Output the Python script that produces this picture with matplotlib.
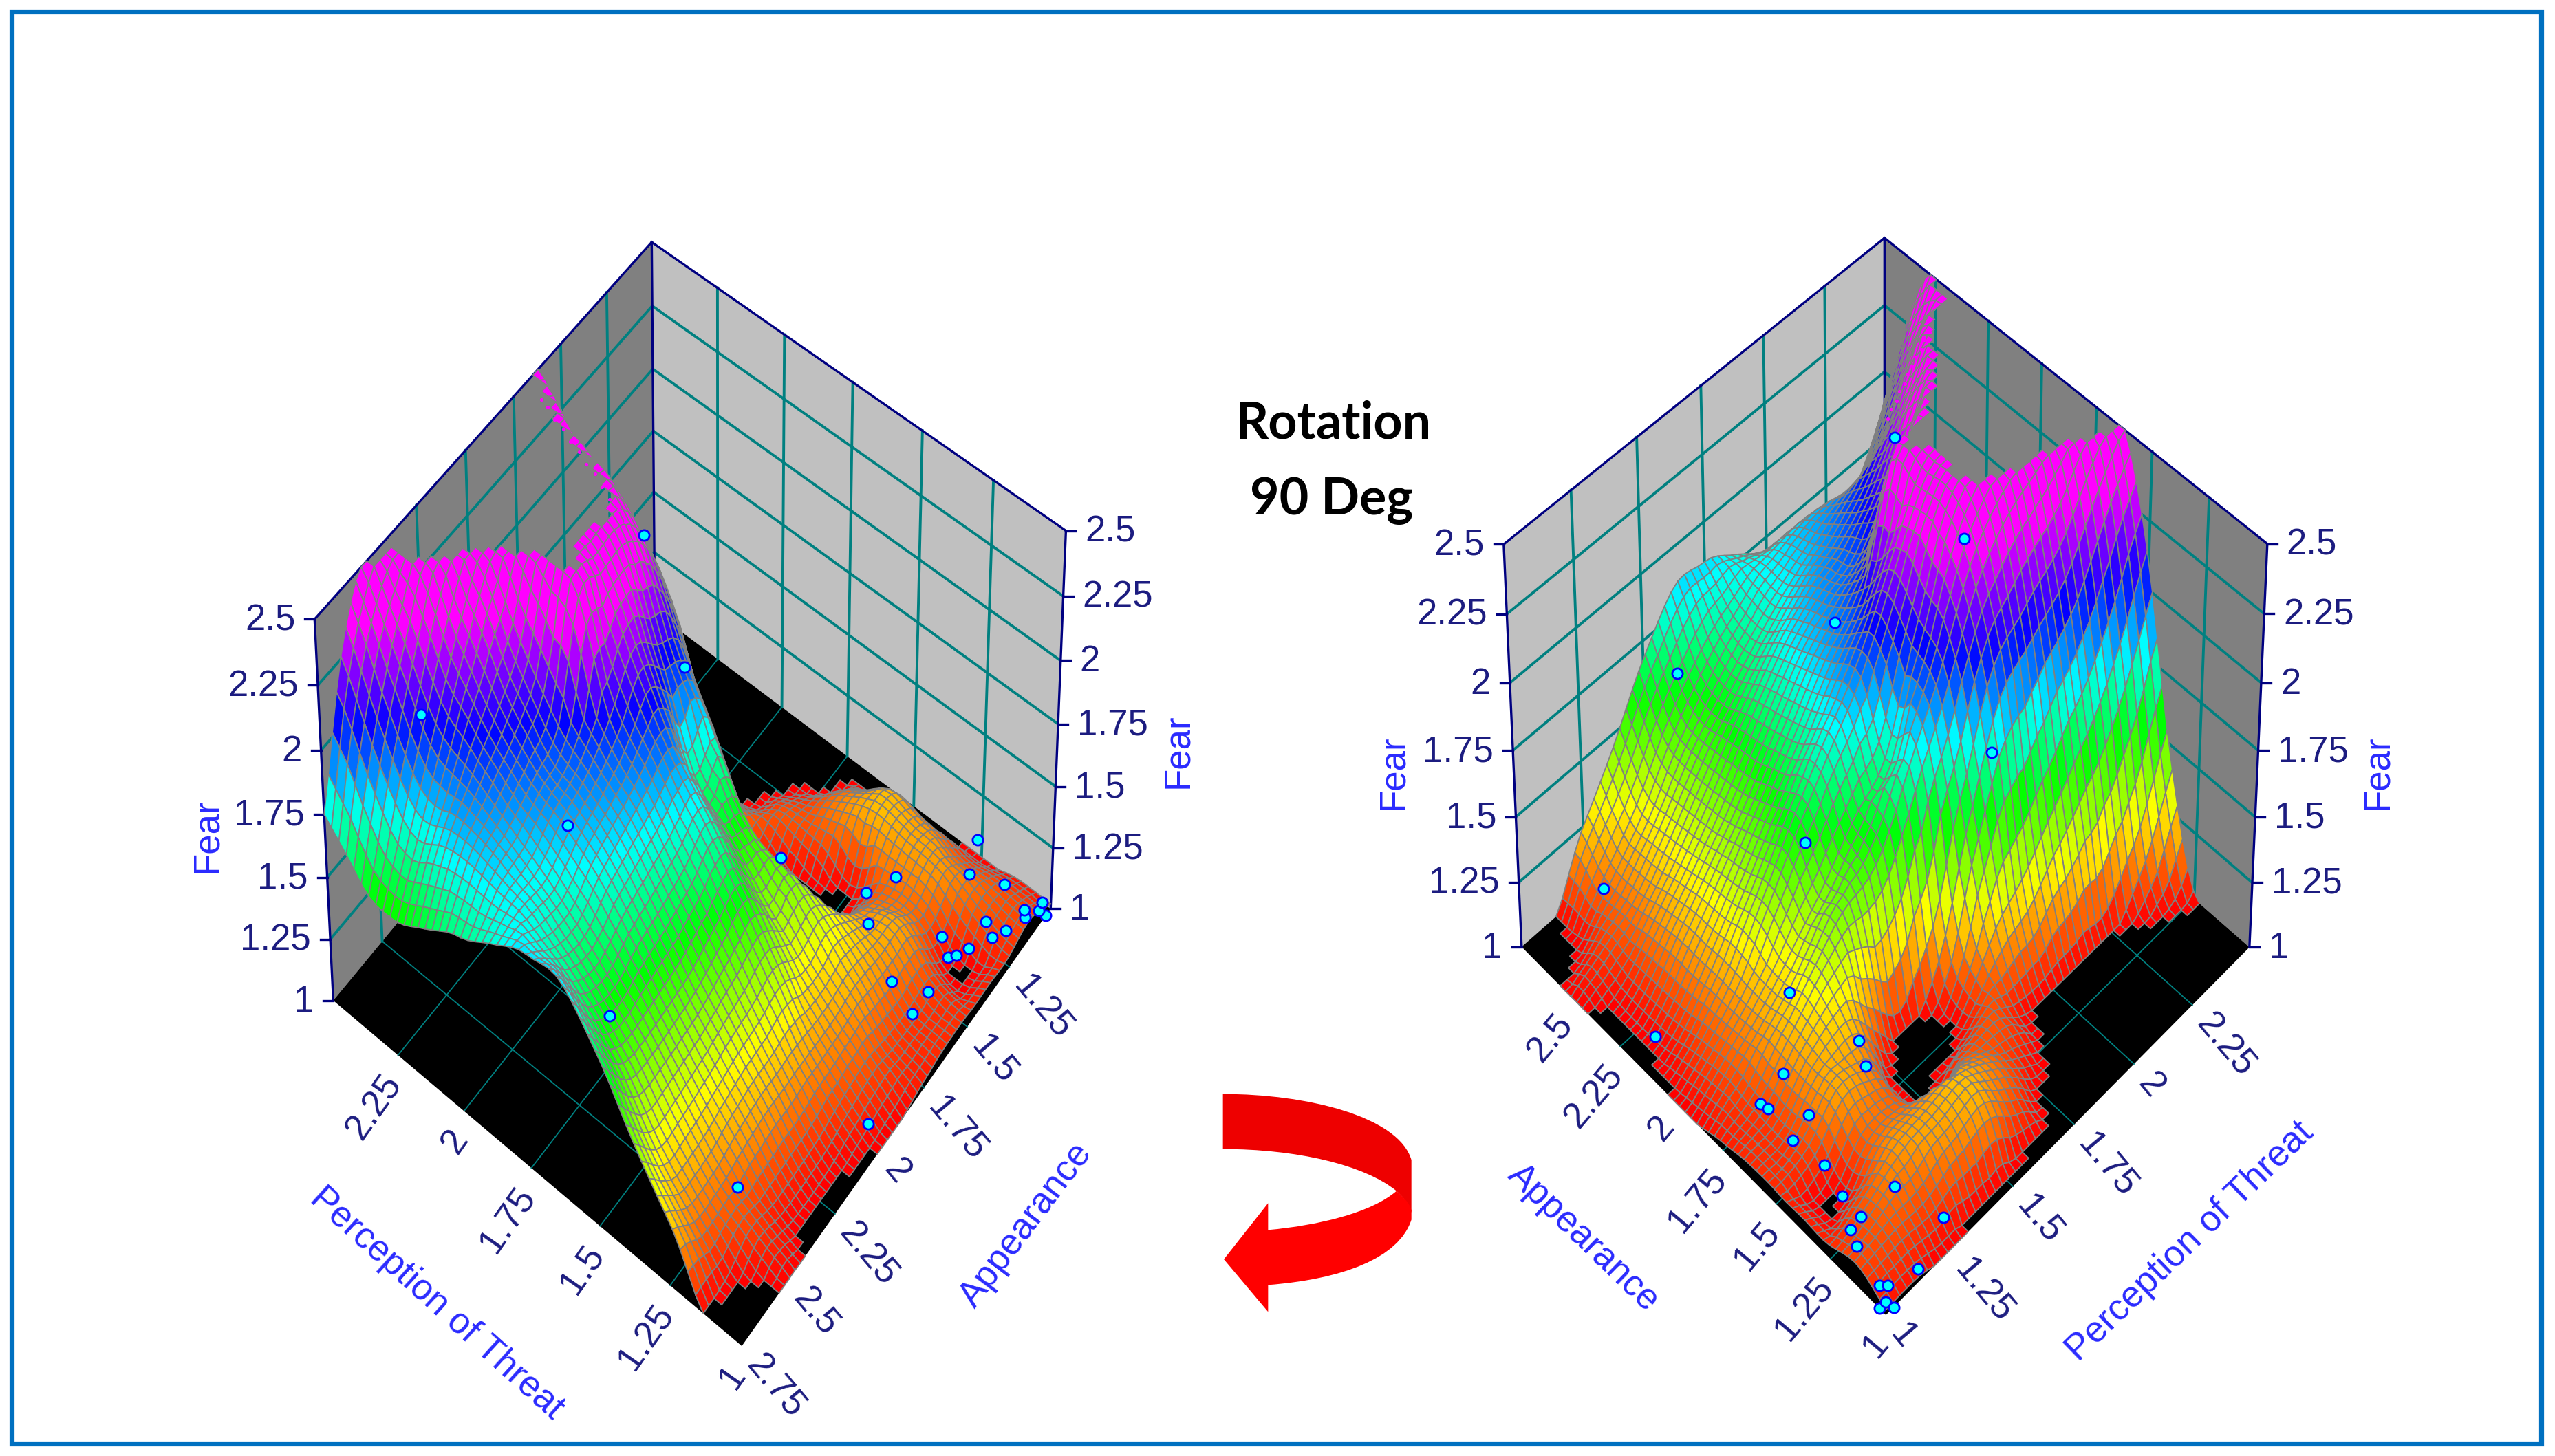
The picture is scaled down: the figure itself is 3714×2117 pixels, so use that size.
#!/usr/bin/env python3
"""Fear response surface over threat and appearance, shown from two sides."""

import numpy as np
import matplotlib
matplotlib.use('Agg')
import matplotlib.pyplot as plt
import matplotlib.tri as mtri
from matplotlib.collections import PolyCollection
from matplotlib.colors import LinearSegmentedColormap
from matplotlib.patches import PathPatch, Polygon, Rectangle
from matplotlib.path import Path

plt.rcParams['font.family'] = ['Liberation Sans', 'DejaVu Sans']

# Axis values
threat_ticks = [1, 1.25, 1.5, 1.75, 2, 2.25, 2.5]
appearance_ticks = [1, 1.25, 1.5, 1.75, 2, 2.25, 2.5, 2.75]
fear_ticks = [1, 1.25, 1.5, 1.75, 2, 2.25, 2.5]

# Surface: one row per appearance value
threat_grid = [1, 1.125, 1.25, 1.375, 1.5, 1.625, 1.75, 1.875, 2, 2.125, 2.25, 2.375, 2.5]
appearance_grid = [1, 1.125, 1.25, 1.375, 1.5, 1.625, 1.75, 1.875, 2, 2.125, 2.25, 2.375, 2.5, 2.625, 2.75]
fear_grid = [
    [1.02, 1.02, 0.98, 0.92, 0.90, 0.90, 0.92, 0.90, 0.85, 0.85, 0.85, 0.85, 0.85],
    [1.08, 1.10, 1.10, 1.15, 1.18, 1.08, 0.96, 0.90, 0.85, 0.85, 0.85, 0.85, 0.90],
    [1.05, 1.10, 1.18, 1.20, 1.22, 1.15, 1.05, 0.97, 0.92, 0.90, 0.90, 0.95, 1.02],
    [1.05, 0.985, 1.12, 1.12, 1.00, 1.08, 1.10, 1.02, 1.00, 1.00, 0.99, 1.15, 1.45],
    [1.05, 1.08, 1.20, 1.15, 0.92, 0.90, 1.03, 1.20, 1.30, 1.45, 1.60, 1.80, 2.10],
    [1.05, 1.07, 1.20, 1.25, 1.10, 0.97, 1.15, 1.60, 1.95, 2.05, 2.15, 2.35, 2.52],
    [1.03, 1.08, 1.22, 1.35, 1.45, 1.50, 1.75, 2.00, 2.30, 2.45, 2.52, 2.60, 2.60],
    [1.00, 1.10, 1.20, 1.32, 1.45, 1.60, 1.72, 2.10, 2.45, 2.55, 2.60, 2.60, 2.60],
    [0.98, 1.08, 1.20, 1.40, 1.60, 1.78, 1.95, 2.20, 2.45, 2.52, 2.60, 2.60, 2.60],
    [0.96, 1.05, 1.20, 1.37, 1.55, 1.72, 1.90, 2.05, 2.47, 2.55, 2.60, 2.60, 2.60],
    [0.95, 1.04, 1.20, 1.35, 1.50, 1.68, 1.85, 1.95, 2.05, 2.25, 2.50, 2.60, 2.60],
    [0.97, 1.04, 1.18, 1.32, 1.48, 1.65, 1.80, 1.90, 1.97, 2.10, 2.30, 2.55, 2.60],
    [1.00, 1.07, 1.15, 1.30, 1.47, 1.60, 1.72, 1.82, 1.90, 1.98, 2.05, 2.30, 2.55],
    [0.85, 1.00, 1.15, 1.30, 1.50, 1.65, 1.75, 1.82, 1.85, 1.85, 1.80, 2.00, 2.30],
    [0.75, 0.97, 1.25, 1.45, 1.68, 1.85, 1.85, 1.78, 1.70, 1.62, 1.55, 1.60, 1.75],
]

# Observations
point_threat = [1.99, 2.32, 1.915, 1.54, 1.96, 1.435, 1.16, 1.23, 1.00, 1.35, 1.30, 1.17, 1.09, 1.07, 1.11,
                1.03, 1.12, 1.13, 1.19, 1.10, 1.07, 1.05, 1.25, 1.15, 1.045, 1.06, 1.00, 1.025, 1.03]
point_appearance = [1.79, 2.49, 2.31, 2.63, 1.62, 1.88, 2.53, 1.71, 2.07, 1.53, 1.44, 1.67, 1.68, 1.62, 1.48,
                    1.455, 1.42, 1.35, 1.18, 1.23, 1.24, 1.19, 1.03, 1.03, 1.08, 1.06, 1.03, 1.03, 1.00]
point_fear = [2.39, 2.05, 1.79, 1.68, 1.75, 1.67, 1.25, 1.42, 1.18, 1.27, 1.29, 1.20, 1.15, 1.20, 1.25,
              1.25, 1.10, 1.03, 1.15, 1.08, 1.05, 1.05, 1.10, 1.00, 1.00, 1.00, 1.00, 1.00, 1.00]

# Stray cells along the far rim of the clipped top, one trail per view
left_rim_threat = [2.00, 2.04, 2.08, 2.12, 2.16, 2.20, 2.24, 2.28, 2.32, 2.36, 2.40, 2.43]
left_rim_appearance = [1.87, 1.85, 1.84, 1.82, 1.80, 1.79, 1.77, 1.76, 1.74, 1.73, 1.71, 1.70]
right_rim_threat = [2.05, 2.08, 2.11, 2.14, 2.17, 2.20, 2.23, 2.26, 2.29, 2.32, 2.35]
right_rim_appearance = [2.21, 2.23, 2.24, 2.26, 2.27, 2.29, 2.30, 2.32, 2.33, 2.35, 2.36]

# Box corners on the page, used to fit each view's camera
LEFT_VIEW = {
    "back": (2.5, 1),
    "rim": (left_rim_threat, left_rim_appearance),
    "corners": [((2.5, 1, 2.5), (948, 352)), ((2.5, 2.75, 2.5), (457, 901)), ((2.5, 2.75, 1), (484, 1454)),
                ((1, 1, 2.5), (1549, 771)), ((1, 1, 1), (1527, 1322)), ((1, 2.75, 1), (1079, 1957))],
}
RIGHT_VIEW = {
    "back": (2.5, 2.75),
    "rim": (right_rim_threat, right_rim_appearance),
    "corners": [((2.5, 2.75, 2.5), (2739, 346)), ((1, 2.75, 2.5), (2186, 791)), ((1, 2.75, 1), (2212, 1377)),
                ((2.5, 1, 2.5), (3296, 791)), ((2.5, 1, 1), (3270, 1377)), ((1, 1, 1), (2741, 1912))],
}

NAVY = '#1c1c80'
TEAL = '#008080'
TITLE_BLUE = '#2a2aff'
MESH_GREY = '#808080'

# Colour bands were judged from the observations sitting on the surface
FEAR_MIN, FEAR_MAX = 1.0, 2.35
band_values = [1.0, 1.3, 1.58, 1.82, 2.07, 2.35]
band_colors = ['#ff0000', '#ffff00', '#00ff00', '#00ffff', '#0000ff', '#ff00ff']
fear_cmap = LinearSegmentedColormap.from_list(
    'fear', [((v - FEAR_MIN) / (FEAR_MAX - FEAR_MIN), c) for v, c in zip(band_values, band_colors)])


def fit_camera(corners):
    """Projective camera from world corners to page pixels."""
    rows, rhs = [], []
    for (t, a, z), (px, py) in corners:
        rows.append([t, a, z, 1, 0, 0, 0, 0, -px * t, -px * a, -px * z])
        rows.append([0, 0, 0, 0, t, a, z, 1, -py * t, -py * a, -py * z])
        rhs += [px, py]
    sol = np.linalg.lstsq(np.array(rows, float), np.array(rhs, float), rcond=None)[0]
    return np.append(sol, 1).reshape(3, 4)


def project(cam, t, a, z):
    t, a, z = np.broadcast_arrays(np.asarray(t, float), np.asarray(a, float), np.asarray(z, float))
    w = cam[2, 0] * t + cam[2, 1] * a + cam[2, 2] * z + cam[2, 3]
    x = (cam[0, 0] * t + cam[0, 1] * a + cam[0, 2] * z + cam[0, 3]) / w
    y = (cam[1, 0] * t + cam[1, 1] * a + cam[1, 2] * z + cam[1, 3]) / w
    return x, y


def fine_surface():
    tg, ag = np.meshgrid(threat_grid, appearance_grid)
    tri = mtri.Triangulation(tg.ravel(), ag.ravel())
    interp = mtri.CubicTriInterpolator(tri, np.array(fear_grid).ravel(), kind='geom')
    tf, af = np.meshgrid(np.linspace(1, 2.5, 57), np.linspace(1, 2.75, 63))
    zf = np.ma.filled(interp(tf, af), 0.9)
    return tf, af, zf


def draw_box(ax, cam, back_t, back_a):
    front_t = 3.5 - back_t
    front_a = 3.75 - back_a

    def quad(ts, az, zs, color):
        x, y = project(cam, ts, az, zs)
        ax.add_patch(Polygon(np.column_stack([x, y]), closed=True, fc=color, ec='none', zorder=1))

    quad([back_t] * 4, [1, 2.75, 2.75, 1], [1, 1, 2.5, 2.5], '#808080')
    quad([1, 2.5, 2.5, 1], [back_a] * 4, [1, 1, 2.5, 2.5], '#c0c0c0')
    quad([1, 2.5, 2.5, 1], [1, 1, 2.75, 2.75], [1] * 4, '#000000')

    # Wall grid
    for v in appearance_ticks[1:-1]:
        x, y = project(cam, back_t, v, [1, 2.5])
        ax.plot(x, y, color=TEAL, lw=2.8, zorder=2)
    for v in threat_ticks[1:-1]:
        x, y = project(cam, v, back_a, [1, 2.5])
        ax.plot(x, y, color=TEAL, lw=2.8, zorder=2)
    for v in fear_ticks[1:-1]:
        x, y = project(cam, back_t, [1, 2.75], v)
        ax.plot(x, y, color=TEAL, lw=2.8, zorder=2)
        x, y = project(cam, [1, 2.5], back_a, v)
        ax.plot(x, y, color=TEAL, lw=2.8, zorder=2)

    # Floor grid
    for v in appearance_ticks[1:-1]:
        x, y = project(cam, [1, 2.5], v, 1)
        ax.plot(x, y, color=TEAL, lw=1.3, zorder=2)
    for v in threat_ticks[1:-1]:
        x, y = project(cam, v, [1, 2.75], 1)
        ax.plot(x, y, color=TEAL, lw=1.3, zorder=2)

    # Box outline
    for ts, az, zs in [([back_t, back_t], [back_a, back_a], [1, 2.5]),
                       ([back_t, back_t], [back_a, front_a], [2.5, 2.5]),
                       ([back_t, front_t], [back_a, back_a], [2.5, 2.5]),
                       ([back_t, back_t], [front_a, front_a], [1, 2.5]),
                       ([front_t, front_t], [back_a, back_a], [1, 2.5])]:
        x, y = project(cam, ts, az, zs)
        ax.plot(x, y, color='#000080', lw=2.4, zorder=2)


def quad_area(verts):
    x, y = verts[..., 0], verts[..., 1]
    return 0.5 * np.sum(x * np.roll(y, -1, axis=-1) - np.roll(x, -1, axis=-1) * y, axis=-1)


def cell_verts(cam, tf, af, z):
    x, y = project(cam, tf, af, z)
    xy = np.dstack([x, y])
    return np.stack([xy[:-1, :-1], xy[:-1, 1:], xy[1:, 1:], xy[1:, :-1]], axis=2).reshape(-1, 4, 2)


def draw_surface(ax, cam, back_t, back_a, tf, af, zf):
    z = np.clip(zf, 1, 2.5)
    verts = cell_verts(cam, tf, af, z)
    zmin = np.minimum.reduce([z[:-1, :-1], z[:-1, 1:], z[1:, 1:], z[1:, :-1]]).ravel()
    zmax = np.maximum.reduce([z[:-1, :-1], z[:-1, 1:], z[1:, 1:], z[1:, :-1]]).ravel()
    zc = (z[:-1, :-1] + z[:-1, 1:] + z[1:, 1:] + z[1:, :-1]).ravel() / 4
    tc = (tf[:-1, :-1] + tf[1:, 1:]).ravel() / 2
    ac = (af[:-1, :-1] + af[1:, 1:]).ravel() / 2

    # Only cells facing the viewer, and not the parts cut off by the floor or the lid
    floor_area = quad_area(cell_verts(cam, tf, af, np.ones_like(z)))
    facing = np.sign(quad_area(verts)) == np.sign(floor_area)
    keep = (zmax > 1) & (zmin < 2.5) & facing

    # back to front over the floor, so near cells cover far ones
    dist = np.abs(tc - back_t) / 1.5 + np.abs(ac - back_a) / 1.75
    order = np.argsort(dist[keep])
    colors = fear_cmap((zc[keep] - FEAR_MIN) / (FEAR_MAX - FEAR_MIN))
    ax.add_collection(PolyCollection(verts[keep][order], facecolors=colors[order], edgecolors=MESH_GREY,
                                     linewidths=1.3, zorder=3))


def draw_ticks(ax, cam, corner_t, corner_a, side):
    for v in fear_ticks:
        x, y = project(cam, corner_t, corner_a, v)
        ax.plot([x, x + side * 14], [y, y], color='#000080', lw=2.4, zorder=2)
        ax.text(x + side * 28, y + 2, f"{v:g}", color=NAVY, fontsize=38, zorder=6, va='center',
                ha='left' if side > 0 else 'right')


def floor_labels(ax, cam, ts, az, values, rotation):
    # Label text ends at the tick when it climbs, starts there when it falls
    for t, a, v in zip(ts, az, values):
        x, y = project(cam, t, a, 1)
        if rotation > 0:
            ax.text(x - 5, y + 33, f"{v:g}", color=NAVY, fontsize=38, rotation=rotation, ha='right', va='center',
                    rotation_mode='anchor', zorder=6)
        else:
            ax.text(x + 15, y + 20, f"{v:g}", color=NAVY, fontsize=38, rotation=rotation, ha='left', va='center',
                    rotation_mode='anchor', zorder=6)


def draw_view(ax, view, surface):
    cam = fit_camera(view["corners"])
    back_t, back_a = view["back"]
    draw_box(ax, cam, back_t, back_a)
    draw_surface(ax, cam, back_t, back_a, *surface)
    rim_t, rim_a = view["rim"]
    x, y = project(cam, rim_t, rim_a, 2.5)
    ax.scatter(x, y, s=14, c='#ff00ff', linewidths=0, zorder=4)
    x, y = project(cam, point_threat, point_appearance, point_fear)
    ax.scatter(x, y, s=120, c='#00ffff', edgecolors='#0000ff', linewidths=2.0, zorder=5)
    return cam


def draw_arrow(ax):
    def pts(seq):
        return [(1700 + px / 3, 1550 + py / 3) for px, py in seq]

    dark = pts([(233, 122), (600, 122), (1000, 220), (1055, 410), (1055, 640), (1040, 590), (1010, 565), (990, 545),
                (850, 430), (550, 362), (233, 362), (233, 122)])
    dark_codes = [Path.MOVETO, Path.CURVE4, Path.CURVE4, Path.CURVE4, Path.LINETO, Path.CURVE4, Path.CURVE4,
                  Path.CURVE4, Path.CURVE4, Path.CURVE4, Path.CURVE4, Path.CLOSEPOLY]
    light = pts([(990, 545), (880, 640), (650, 695), (430, 715), (430, 598), (237, 843), (430, 1072), (430, 955),
                 (750, 930), (1000, 840), (1055, 670), (1055, 630), (1045, 590), (1010, 565), (990, 545), (990, 545)])
    light_codes = [Path.MOVETO, Path.CURVE4, Path.CURVE4, Path.CURVE4, Path.LINETO, Path.LINETO, Path.LINETO,
                   Path.LINETO, Path.CURVE4, Path.CURVE4, Path.CURVE4, Path.LINETO, Path.CURVE4, Path.CURVE4,
                   Path.CURVE4, Path.CLOSEPOLY]
    ax.add_patch(PathPatch(Path(dark, dark_codes), fc='#ee0000', ec='none', zorder=4))
    ax.add_patch(PathPatch(Path(light, light_codes), fc='#ff0000', ec='none', zorder=4))


def main():
    fig = plt.figure(figsize=(37.14, 21.17), dpi=100, facecolor='white')
    ax = fig.add_axes([0, 0, 1, 1])
    ax.set_xlim(0, 3714)
    ax.set_ylim(2117, 0)
    ax.set_axis_off()

    ax.add_patch(Rectangle((17, 17), 3676.5, 2081.5, fc='none', ec='#0070c0', lw=5.2, zorder=7))

    surface = fine_surface()

    # Left view
    cam = draw_view(ax, LEFT_VIEW, surface)
    draw_ticks(ax, cam, 2.5, 2.75, -1)
    draw_ticks(ax, cam, 1, 1, 1)
    floor_labels(ax, cam, threat_ticks[:-1], [2.75] * 6, threat_ticks[:-1], 55)
    floor_labels(ax, cam, [1] * 7, appearance_ticks[1:], appearance_ticks[1:], -50)
    ax.text(635, 1895, "Perception of Threat", color=TITLE_BLUE, fontsize=38, rotation=-42, ha='center', va='center')
    ax.text(1492, 1781, "Appearance", color=TITLE_BLUE, fontsize=38, rotation=53, ha='center', va='center')
    ax.text(301, 1215, "Fear", color=TITLE_BLUE, fontsize=38, rotation=90, ha='center', va='center')
    ax.text(1712, 1092, "Fear", color=TITLE_BLUE, fontsize=38, rotation=90, ha='center', va='center')

    # Right view
    cam = draw_view(ax, RIGHT_VIEW, surface)
    draw_ticks(ax, cam, 1, 2.75, -1)
    draw_ticks(ax, cam, 2.5, 1, 1)
    floor_labels(ax, cam, [1] * 7, appearance_ticks[:-1], appearance_ticks[:-1], 50)
    floor_labels(ax, cam, threat_ticks[:-1], [1] * 6, threat_ticks[:-1], -50)
    ax.text(2302, 1800, "Appearance", color=TITLE_BLUE, fontsize=38, rotation=-44, ha='center', va='center')
    ax.text(3183, 1805, "Perception of Threat", color=TITLE_BLUE, fontsize=38, rotation=44, ha='center', va='center')
    ax.text(2025, 1123, "Fear", color=TITLE_BLUE, fontsize=38, rotation=90, ha='center', va='center')
    ax.text(3456, 1123, "Fear", color=TITLE_BLUE, fontsize=38, rotation=90, ha='center', va='center')

    # Note between the views
    ax.text(1938, 637, "Rotation", family='Lato', fontweight='bold', fontsize=53, color='black', ha='center', va='baseline')
    ax.text(1936, 748, "90 Deg", family='Lato', fontweight='bold', fontsize=53, color='black', ha='center', va='baseline')
    draw_arrow(ax)

    fig.savefig('out.png', dpi=100)
    plt.close(fig)


if __name__ == "__main__":
    main()
